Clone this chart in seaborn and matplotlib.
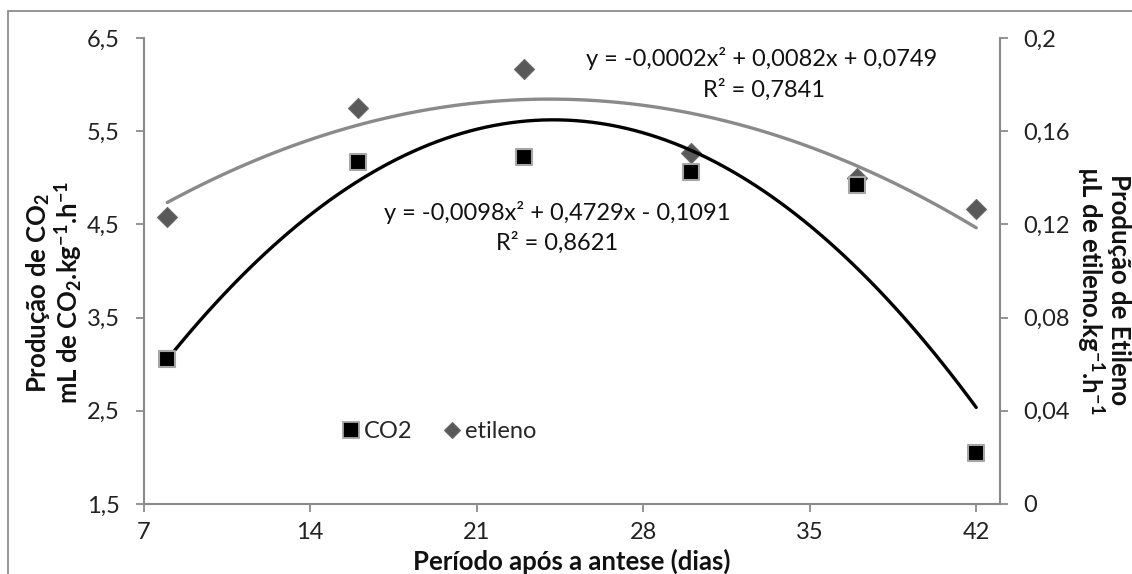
import matplotlib
matplotlib.use("Agg")
import matplotlib.pyplot as plt
from matplotlib.lines import Line2D
from matplotlib.patches import Rectangle
import seaborn as sns
import pandas as pd

# ---- data ----
dias = [8, 16, 23, 30, 37, 42]
co2 = [3.06, 5.17, 5.22, 5.06, 4.92, 2.05]
etileno = [0.1233, 0.1698, 0.1868, 0.1506, 0.1399, 0.1265]

x_ticks = [7, 14, 21, 28, 35, 42]
y_left_ticks = [1.5, 2.5, 3.5, 4.5, 5.5, 6.5]
y_left_labels = ["1,5", "2,5", "3,5", "4,5", "5,5", "6,5"]
y_right_ticks = [0, 0.04, 0.08, 0.12, 0.16, 0.2]
y_right_labels = ["0", "0,04", "0,08", "0,12", "0,16", "0,2"]

eq_co2 = "y = -0,0098x² + 0,4729x - 0,1091"
r2_co2 = "R² = 0,8621"
eq_et = "y = -0,0002x² + 0,0082x + 0,0749"
r2_et = "R² = 0,7841"

df = pd.DataFrame({"dias": dias, "co2": co2, "etileno": etileno})

sns.set_theme(style="white")
plt.rcParams["font.family"] = ["Lato", "DejaVu Sans"]
plt.rcParams["mathtext.fontset"] = "custom"
plt.rcParams["mathtext.rm"] = "Lato"
plt.rcParams["mathtext.bf"] = "Lato:bold"
plt.rcParams["mathtext.it"] = "Lato:italic"

W, H = 1132, 574
fig = plt.figure(figsize=(W / 100, H / 100), dpi=100)
L, R, T, B = 143.5, 1000, 38, 504
ax = fig.add_axes([L / W, 1 - B / H, (R - L) / W, (B - T) / H])
ax2 = ax.twinx()

spine_c = "#8a8a8a"
fs = 17
fs_b = 18.5
txt_c = "#111111"

# etileno (right axis)
sns.regplot(data=df, x="dias", y="etileno", order=2, ci=None, scatter=False,
            truncate=True, ax=ax2, line_kws={"color": "#8a8a8a", "lw": 2.4})
sns.scatterplot(data=df, x="dias", y="etileno", marker="D", s=104,
                color="#595959", edgecolor="#6a6a6a", linewidth=0.8, ax=ax2, zorder=3)

# CO2 (left axis)
sns.regplot(data=df, x="dias", y="co2", order=2, ci=None, scatter=False,
            truncate=True, ax=ax, line_kws={"color": "black", "lw": 2.4})
sns.scatterplot(data=df, x="dias", y="co2", marker="s", s=135,
                color="black", edgecolor="#a6a6a6", linewidth=1.5, ax=ax, zorder=3)

ax.set_zorder(ax2.get_zorder() + 1)
ax.patch.set_visible(False)

ax.set_xlim(7, 43)
ax.set_ylim(1.5, 6.5)
ax2.set_ylim(0, 0.2)
ax.set_xticks(x_ticks)
ax.set_xticklabels([str(v) for v in x_ticks])
ax.set_yticks(y_left_ticks)
ax.set_yticklabels(y_left_labels)
ax2.set_yticks(y_right_ticks)
ax2.set_yticklabels(y_right_labels)

for a in (ax, ax2):
    a.set_xlabel("")
    a.set_ylabel("")
    a.grid(False)
    for s in a.spines.values():
        s.set_visible(False)
ax.spines["left"].set_visible(True)
ax.spines["bottom"].set_visible(True)
ax2.spines["right"].set_visible(True)
for s in (ax.spines["left"], ax.spines["bottom"], ax2.spines["right"]):
    s.set_color(spine_c)
    s.set_linewidth(1.5)

ax.tick_params(axis="both", which="major", direction="out", length=6, width=1.3,
               color=spine_c, labelsize=fs, labelcolor="#222222", pad=11,
               left=True, bottom=True)
ax.tick_params(axis="x", pad=7)
ax2.tick_params(axis="y", direction="out", length=6, width=1.3, color=spine_c,
                labelsize=fs, labelcolor="#222222", pad=11, right=True)

# equations
ax.text(33.0, 6.285, eq_et, ha="center", va="center", fontsize=fs, color=txt_c)
ax.text(33.1, 5.94, r2_et, ha="center", va="center", fontsize=fs, color=txt_c)
ax.text(24.38, 4.63, eq_co2, ha="center", va="center", fontsize=fs, color=txt_c)
ax.text(24.38, 4.30, r2_co2, ha="center", va="center", fontsize=fs, color=txt_c)

# legend
handles = [
    Line2D([], [], marker="s", linestyle="none", markersize=11, markerfacecolor="black",
           markeredgecolor="#a6a6a6", markeredgewidth=1.3),
    Line2D([], [], marker="D", linestyle="none", markersize=8.5, markerfacecolor="#595959",
           markeredgecolor="#6a6a6a", markeredgewidth=0.8),
]
ax.legend(handles, ["CO2", "etileno"], loc="center",
          bbox_to_anchor=((439 - L) / (R - L), (B - 432) / (B - T)),
          ncol=2, frameon=False, fontsize=fs, handletextpad=0.15, columnspacing=1.3,
          handlelength=0.8, borderpad=0)

# axis titles
fig.text(572 / W, 1 - 561 / H, "Período após a antese (dias)", ha="center", va="center",
         fontsize=fs_b, fontweight="bold", color=txt_c)
fig.text(54 / W, 1 - 293 / H,
         "Produção de CO$_\\mathbf{2}$\nmL de CO$_\\mathbf{2}$.kg$^\\mathbf{-1}$.h$^\\mathbf{-1}$",
         ha="center", va="center", rotation=90, fontsize=fs_b, fontweight="bold",
         color=txt_c, linespacing=1.0)
fig.text(1103 / W, 1 - 290 / H,
         "Produção de Etileno\nµL de etileno.kg$^\\mathbf{-1}$.h$^\\mathbf{-1}$",
         ha="center", va="center", rotation=-90, fontsize=fs_b, fontweight="bold",
         color=txt_c, linespacing=1.0)

# outer frame (top and left edges visible)
fig.patches.append(Rectangle((8 / W, -0.05), 1.2, 1.05 - 11 / H, transform=fig.transFigure,
                             fill=False, edgecolor="#8c8c8c", linewidth=1.3))

fig.savefig("out.png", dpi=100)
